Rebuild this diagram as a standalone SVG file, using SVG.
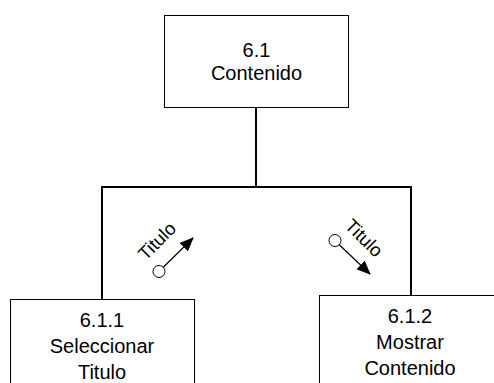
<svg xmlns="http://www.w3.org/2000/svg" width="494" height="383" viewBox="0 0 494 383">
<defs>
<style>
.box{fill:#fff;stroke:#000;stroke-width:1}
.t{font-family:"Liberation Sans",Arial,sans-serif;font-size:20px;fill:#000;text-anchor:middle}
.lbl{font-family:"Liberation Sans",Arial,sans-serif;font-size:18.5px;fill:#000;text-anchor:middle}
.conn{fill:none;stroke:#000;stroke-width:2}
.flow{fill:none;stroke:#000;stroke-width:1.2}
</style>
<marker id="ah" viewBox="0 0 14 12" refX="13" refY="6" markerWidth="14" markerHeight="12" markerUnits="userSpaceOnUse" orient="auto">
<path d="M0,0 L14,6 L0,12 z" fill="#000"/>
</marker>
</defs>
<rect width="494" height="383" fill="#fff"/>
<g id="connectors">
<path class="conn" d="M256,107 V187 M102,299 V187 H411 V295"/>
</g>
<g id="node-6-1">
<rect class="box" x="164.5" y="15.5" width="184" height="92"/>
<text class="t" x="256.5" y="57">6.1</text>
<text class="t" x="256.5" y="80">Contenido</text>
</g>
<g id="node-6-1-1">
<rect class="box" x="10.5" y="299.5" width="184" height="100"/>
<text class="t" x="102" y="327">6.1.1</text>
<text class="t" x="102" y="353">Seleccionar</text>
<text class="t" x="102" y="379">Titulo</text>
</g>
<g id="node-6-1-2">
<rect class="box" x="319.5" y="295.5" width="184" height="100"/>
<text class="t" x="410" y="323">6.1.2</text>
<text class="t" x="410" y="349">Mostrar</text>
<text class="t" x="410" y="375">Contenido</text>
</g>
<g id="flow-left">
<line class="flow" x1="163" y1="267.5" x2="193" y2="238" marker-end="url(#ah)"/>
<circle cx="159" cy="271.5" r="6" fill="#fff" stroke="#000"/>
<text class="lbl" transform="translate(161.5,245.5) rotate(-45)">Titulo</text>
</g>
<g id="flow-right">
<line class="flow" x1="339" y1="244.5" x2="370" y2="274" marker-end="url(#ah)"/>
<circle cx="335" cy="240.5" r="6" fill="#fff" stroke="#000"/>
<text class="lbl" transform="translate(359.5,242.5) rotate(45)">Titulo</text>
</g>
</svg>
